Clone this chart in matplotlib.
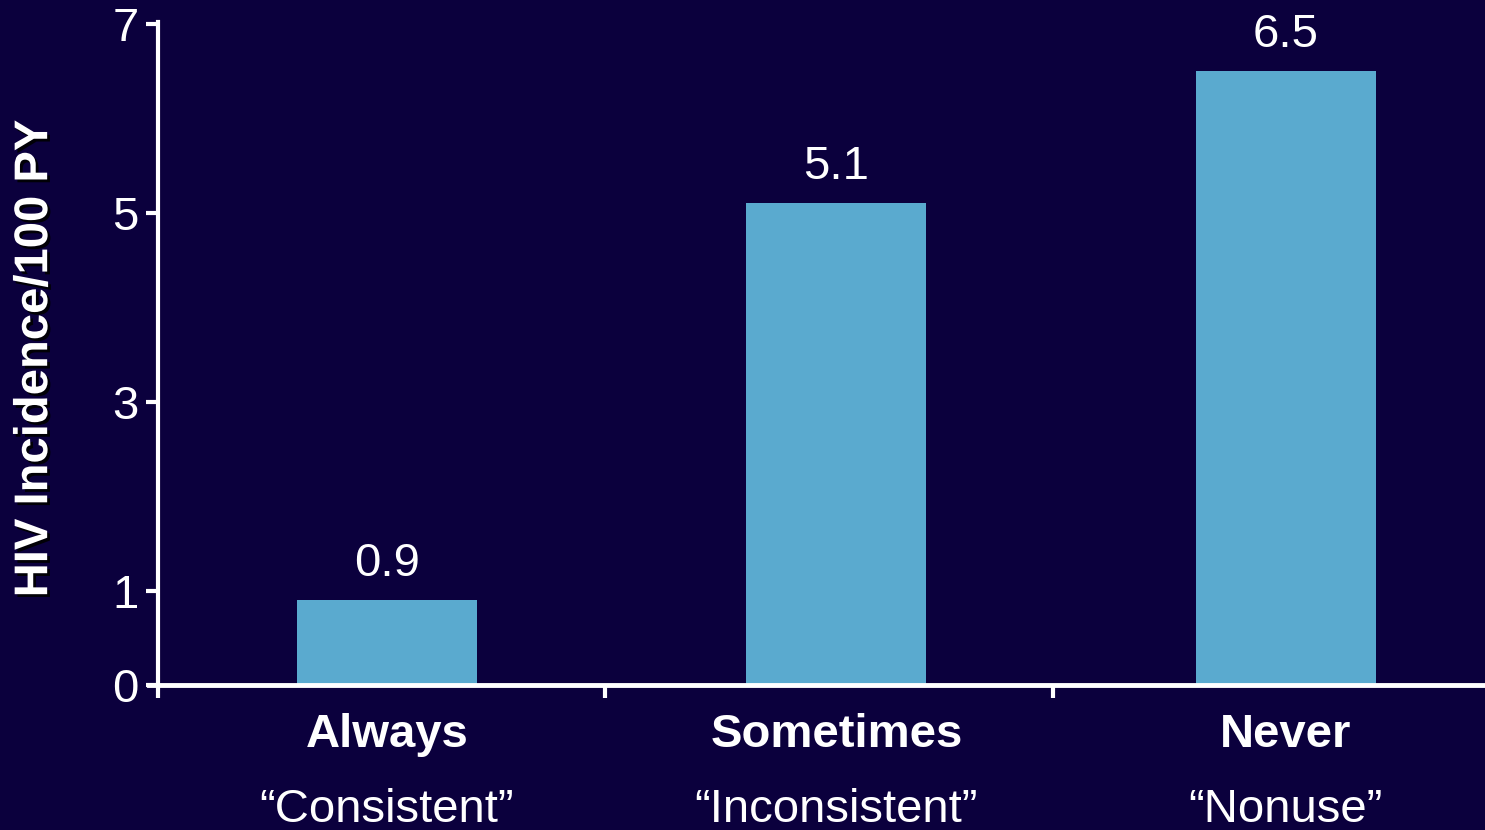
import matplotlib.pyplot as plt
import matplotlib.patheffects as pe
from matplotlib.transforms import blended_transform_factory

plt.rcParams['font.family'] = ['Liberation Sans', 'DejaVu Sans']

categorias = ["Always", "Sometimes", "Never"]
subtitulos = ["\u201cConsistent\u201d", "\u201cInconsistent\u201d", "\u201cNonuse\u201d"]
valores = [0.9, 5.1, 6.5]
yticks = [0, 1, 3, 5, 7]

fundo = "#0b003d"
azul = "#5aaacf"

fig = plt.figure(figsize=(14.85, 8.3), dpi=100, facecolor=fundo)
ax = fig.add_axes([0.1064, 0.1747, 0.8936, 0.7988], facecolor=fundo)

x = list(range(len(categorias)))
ax.bar(x, valores, width=0.4, color=azul, zorder=2)

for xi, v in zip(x, valores):
    ax.annotate(f"{v}", (xi, v), xytext=(0, 10), textcoords="offset points",
                ha="center", va="bottom", color="white", fontsize=34)

ax.set_xlim(-0.509, 2.443)
ax.set_ylim(0, 7.02)
ax.set_yticks(yticks)
ax.set_yticklabels([str(t) for t in yticks], fontsize=34, color="white")
ax.set_xticks([-0.509, 0.485, 1.482])
ax.set_xticklabels([])

for s in ["top", "right"]:
    ax.spines[s].set_visible(False)
ax.spines["left"].set_color("white")
ax.spines["bottom"].set_color("white")
ax.spines["left"].set_linewidth(3)
ax.spines["bottom"].set_linewidth(3.5)
ax.spines["bottom"].set_bounds(-0.53, 2.443)
ax.tick_params(axis="both", colors="white", width=3, length=9, direction="out")
ax.tick_params(axis="y", pad=5)

trans = blended_transform_factory(ax.transData, fig.transFigure)
for xi, cat, sub in zip(x, categorias, subtitulos):
    ax.text(xi, 1 - 735 / 830, cat, transform=trans, ha="center", va="center",
            fontsize=34, fontweight="bold", color="white")
    ax.text(xi, 1 - 810 / 830, sub, transform=trans, ha="center", va="center",
            fontsize=34, color="white")

ylab = ax.set_ylabel("HIV Incidence/100 PY", fontsize=34, fontweight="bold", color="white")
ylab.set_path_effects([pe.withSimplePatchShadow(offset=(2, -2), shadow_rgbFace="black", alpha=0.9)])
ax.yaxis.set_label_coords(-0.076, 0.493, transform=ax.transAxes)

fig.savefig("out.png", dpi=100, facecolor=fundo)
